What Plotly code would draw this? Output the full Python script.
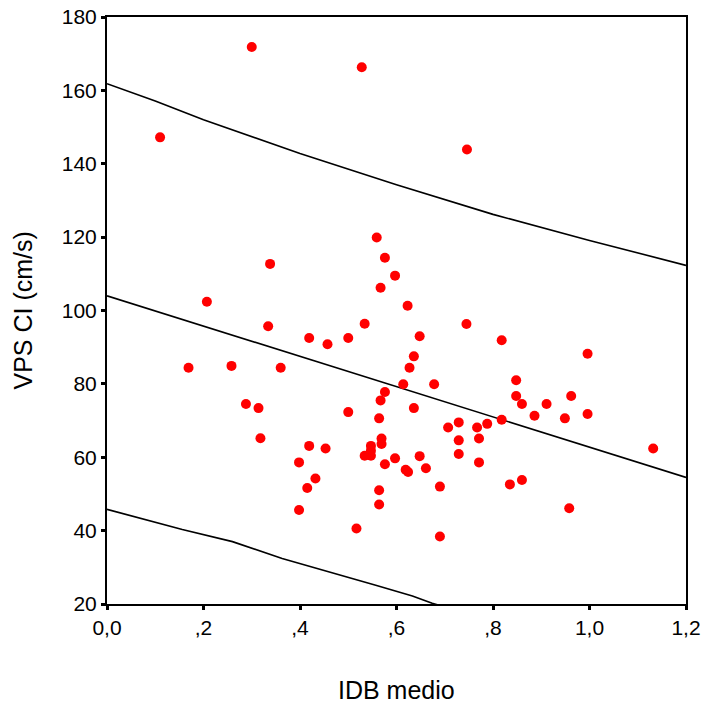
import plotly.graph_objects as go

# IDB medio vs VPS CI
idb = [0.110, 0.300, 0.528, 0.746, 0.559, 0.576, 0.597, 0.567, 0.338, 0.207,
       0.334, 0.534, 0.419, 0.457, 0.500, 0.169, 0.258, 0.360, 0.288, 0.314,
       0.500, 0.576, 0.567, 0.564, 0.623, 0.745, 0.648, 0.818, 0.636, 0.627,
       0.614, 0.678, 0.996, 0.848, 0.848, 0.962, 0.860, 0.911, 0.636, 0.886,
       0.949, 0.996, 0.818, 0.707, 0.729, 0.767, 0.788, 0.729, 0.771, 0.569,
       0.569, 0.576, 0.597, 0.619, 0.624, 0.648, 0.661, 0.729, 0.771, 0.564,
       0.564, 0.690, 0.835, 0.860, 0.958, 1.132, 0.690, 0.318, 0.419, 0.453,
       0.398, 0.432, 0.415, 0.398, 0.517, 0.547, 0.547, 0.534, 0.547]
vps = [147.2, 171.8, 166.3, 143.9, 119.9, 114.4, 109.5, 106.2, 112.7, 102.4,
       95.7, 96.4, 92.5, 90.8, 92.5, 84.4, 84.9, 84.4, 74.5, 73.4,
       72.3, 77.8, 75.5, 70.6, 101.3, 96.3, 93.0, 91.9, 87.5, 84.4,
       79.9, 79.9, 88.2, 81.0, 76.7, 76.7, 74.5, 74.5, 73.4, 71.3,
       70.6, 71.8, 70.2, 68.1, 69.5, 68.1, 69.1, 64.6, 65.1, 65.1,
       63.6, 58.1, 59.7, 56.6, 56.0, 60.3, 57.0, 60.9, 58.6, 51.0,
       47.1, 52.0, 52.6, 53.8, 46.1, 62.4, 38.4, 65.2, 63.1, 62.4,
       58.6, 54.2, 51.6, 45.6, 40.6, 63.1, 61.8, 60.4, 60.4]

# recta de regresión y bandas de predicción
fit_x = [0.0, 1.2]
fit_y = [104.0, 54.5]
upper_x = [0.0, 0.1, 0.2, 0.4, 0.6, 0.8, 1.0, 1.2]
upper_y = [161.8, 157.1, 152.0, 142.8, 134.3, 126.2, 119.1, 112.3]
lower_x = [0.0, 0.156, 0.26, 0.363, 0.557, 0.633, 0.674, 0.70]
lower_y = [45.8, 40.3, 37.0, 32.4, 25.1, 22.2, 20.2, 19.2]

x_ticks = [0.0, 0.2, 0.4, 0.6, 0.8, 1.0, 1.2]
x_labels = ["0,0", ",2", ",4", ",6", ",8", "1,0", "1,2"]
y_ticks = [20, 40, 60, 80, 100, 120, 140, 160, 180]

FONT = "Arial, Liberation Sans, sans-serif"

fig = go.Figure()
for lx, ly in [(upper_x, upper_y), (fit_x, fit_y), (lower_x, lower_y)]:
    fig.add_trace(go.Scatter(x=lx, y=ly, mode="lines",
                             line=dict(color="black", width=1.6),
                             hoverinfo="skip"))
fig.add_trace(go.Scatter(x=idb, y=vps, mode="markers",
                         marker=dict(color="#FF0000", size=10)))

fig.update_layout(
    width=703, height=708,
    margin=dict(l=107, r=17, t=17, b=104),
    paper_bgcolor="white", plot_bgcolor="white",
    showlegend=False,
    font=dict(family=FONT, size=21, color="black"),
    annotations=[
        dict(text="IDB medio", x=0.5, y=0, xref="paper", yref="paper",
             xanchor="center", yanchor="middle", yshift=-86,
             showarrow=False, font=dict(size=25)),
        dict(text="VPS CI (cm/s)", x=0, y=0.5, xref="paper", yref="paper",
             xanchor="center", yanchor="middle", xshift=-85, textangle=-90,
             showarrow=False, font=dict(size=25)),
    ],
)
fig.update_xaxes(range=[0, 1.2], tickvals=x_ticks, ticktext=x_labels,
                 automargin=False,
                 showgrid=False, zeroline=False, showline=True,
                 linecolor="black", linewidth=2, mirror=True,
                 ticks="outside", ticklen=4, tickwidth=3, tickcolor="black")
fig.update_yaxes(range=[20, 180], tickvals=y_ticks, automargin=False,
                 showgrid=False, zeroline=False, showline=True,
                 linecolor="black", linewidth=2, mirror=True,
                 ticks="outside", ticklen=4, tickwidth=3, tickcolor="black")

# quitar el margen por defecto del body para que la figura empiece en (0,0)
fig.write_html("out.html", config={"displayModeBar": False},
               post_script="document.body.style.margin='0';")
